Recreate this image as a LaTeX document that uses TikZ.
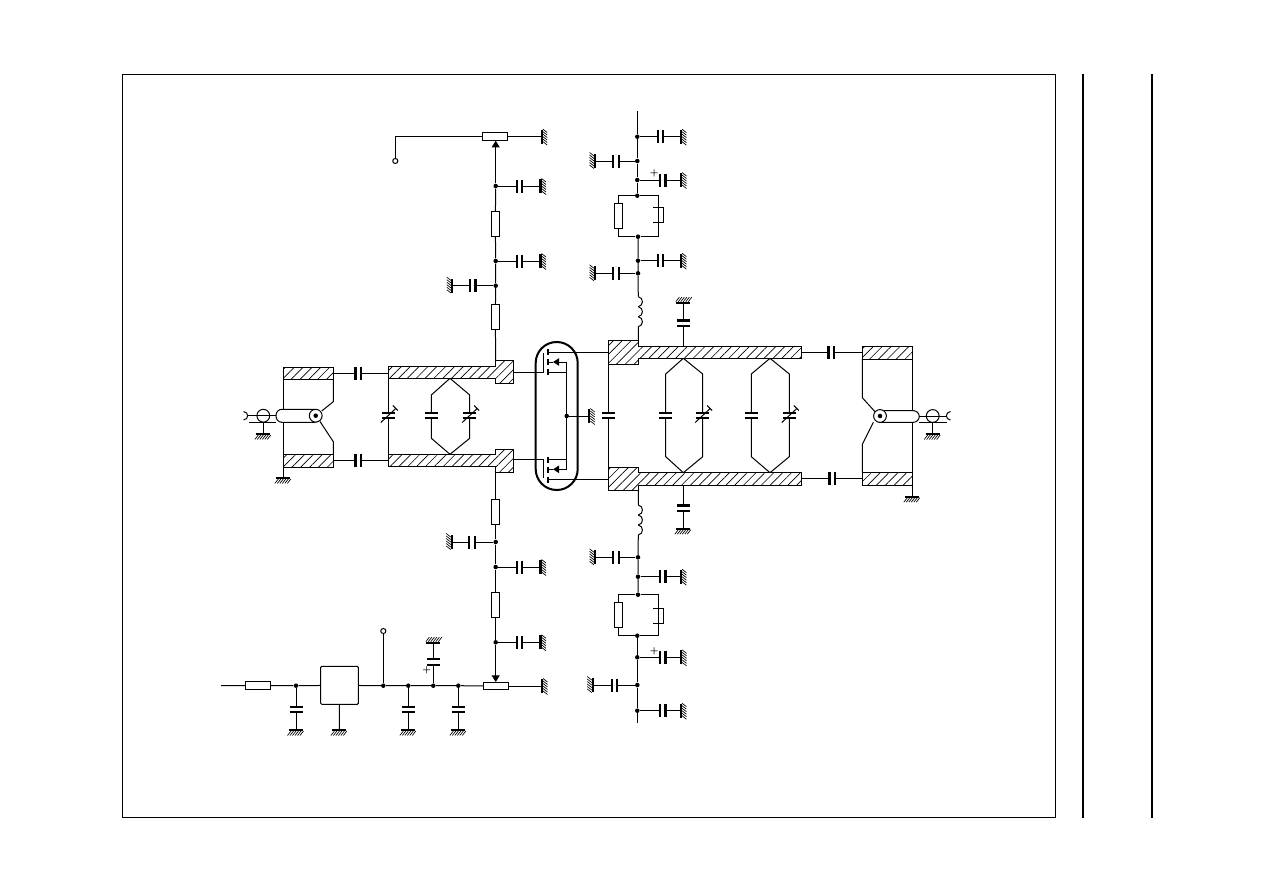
\documentclass[tikz,border=0pt]{standalone}
\usepackage{amsmath}
\usetikzlibrary{arrows.meta,patterns.meta}

\tikzset{
  every pic/.style={yscale=-1},
  wire/.style={line width=0.75pt},
  plate/.style={line width=1.6pt},
  dotnode/.style={circle,fill=black,inner sep=0pt,minimum size=3.4pt},
  opennode/.style={circle,draw,fill=white,line width=0.75pt,inner sep=0pt,minimum size=3.8pt},
  resv/.style={draw,fill=white,line width=0.75pt,inner sep=0pt,minimum width=6pt,minimum height=18.75pt},
  resh/.style={draw,fill=white,line width=0.75pt,inner sep=0pt,minimum width=18.75pt,minimum height=5.6pt},
  hatchfill/.style={draw,line width=0.75pt,pattern={Lines[angle=45,distance=4.7pt,line width=0.5pt]}},
  plusmark/.style={inner sep=0pt,font=\fontsize{6.5}{6.5}\selectfont\bfseries},
  gnd/.pic={
    \begin{scope}[rotate=#1]
      \draw[plate] (-7,0) -- (7,0);
      \foreach \i in {-5,-2.5,0,2.5,5,7.5} \draw[line width=0.5pt] (\i,1) -- (\i-3.5,5.5);
    \end{scope}
  },
  capstand/.pic={
    \coordinate (-a) at (-2.8,0);
    \coordinate (-b) at (2.8,0);
    \draw[plate] (-2.8,-6.5) -- (-2.8,6.5) (2.8,-6.5) -- (2.8,6.5);
  },
  capflat/.pic={
    \coordinate (-a) at (0,-2.8);
    \coordinate (-b) at (0,2.8);
    \draw[plate] (-6.5,-2.8) -- (6.5,-2.8) (-6.5,2.8) -- (6.5,2.8);
  },
  trimflat/.pic={
    \coordinate (-a) at (0,-2.8);
    \coordinate (-b) at (0,2.8);
    \draw[plate] (-6.5,-2.8) -- (6.5,-2.8) (-6.5,2.8) -- (6.5,2.8);
    \draw[wire] (-7.5,7) -- (7.5,-7) (4.5,-10) -- (9.5,-5);
  },
  coil/.pic={
    \coordinate (-a) at (0,0);
    \coordinate (-b) at (0,30);
    \foreach \k in {0,10,20}
      \draw[wire] (0,\k) .. controls (5.5,\k+1) and (5.5,\k+9) .. (0,\k+10);
  },
}

\begin{document}
\begin{tikzpicture}[x=0.75pt,y=0.75pt,yscale=-1,xscale=1]
\useasboundingbox (0,0) rectangle (1263,892);

%Shape: Frame and side bars
\draw[wire] (122.5,74.5) rectangle (1055.5,817.5);
\draw[line width=1.5pt] (1083,74) -- (1083,818);
\draw[line width=1.5pt] (1152,74) -- (1152,818);

%Left balun
\draw[wire] (283.3,379.3) -- (283.3,478);
\path (283.3,478) pic {gnd=0};
\draw[hatchfill] (283.3,367.7) rectangle (333.3,379.3);
\draw[hatchfill] (283.3,454.3) rectangle (333.3,467.3);
\draw[wire] (333.3,379.3) -- (333.3,401.7) -- (321.7,411);
\draw[wire] (333.3,454.3) -- (333.3,441.7) -- (320,421.5);
\draw[wire,fill=white,rounded corners=4.5pt] (276,409.3) rectangle (320,422.3);
\node[circle,draw,fill=white,line width=0.75pt,inner sep=0pt,minimum size=9.6pt] (lcoax) at (315.7,415.7) {};
\node[dotnode] (lcoaxdot) at (315.7,415.7) {};
\node[circle,draw,line width=0.75pt,inner sep=0pt,minimum size=9.6pt] (lconn) at (263.3,415.7) {};
\coordinate (lgnd) at (263.3,434);
\coordinate (lpin) at (247,415.7);
\draw[wire] (lpin) -- (276,415.7);
\draw[wire] (249,422.3) -- (276,422.3);
\draw[wire] (263.3,422.3) -- (lgnd);
\path (lgnd) pic {gnd=0};
\draw[wire] (243.5,411.5) .. controls (249,412) and (249,419.5) .. (243.5,420);

%Input caps and left tanks
\draw[hatchfill] (388.3,366.7) -- (495,366.7) -- (495,360) -- (513.3,360) -- (513.3,383.3) -- (495,383.3) -- (495,378.3) -- (388.3,378.3) -- cycle;
\draw[hatchfill] (388.3,454.3) -- (495,454.3) -- (495,449.3) -- (513.3,449.3) -- (513.3,472.3) -- (495,472.3) -- (495,466.7) -- (388.3,466.7) -- cycle;
\path (358.3,373.3) pic (cia) {capstand};
\path (358.3,460) pic (cib) {capstand};
\draw[wire] (333.3,373.3) -- (cia-a) (cia-b) -- (388.3,373.3);
\draw[wire] (333.3,460) -- (cib-a) (cib-b) -- (388.3,460);
\path (388.3,415.5) pic (cva) {trimflat};
\draw[wire] (388.3,378.3) -- (cva-a) (cva-b) -- (388.3,454.3);
\coordinate (ltop) at (450,378.3);
\coordinate (lbot) at (450,454.3);
\path (431.3,415.5) pic (cvb) {capflat};
\path (469.7,415.5) pic (cvc) {trimflat};
\draw[wire] (ltop) -- (431.3,395) -- (cvb-a) (cvb-b) -- (431.3,438.3) -- (lbot);
\draw[wire] (ltop) -- (469.7,395) -- (cvc-a) (cvc-b) -- (469.7,438.3) -- (lbot);

%Transistor pair
\node[draw,line width=1.5pt,rounded corners=15.7pt,minimum width=31.5pt,minimum height=111pt,inner sep=0pt] (envelope) at (556.7,416) {};
\coordinate (gup) at (543.3,372.3);
\coordinate (gdn) at (543.3,459);
\coordinate (srcnode) at (566.7,416);
\draw[wire] (513.3,372.3) -- (gup) -- (543.3,353);
\draw[wire] (513.3,459) -- (gdn) -- (543.3,478);
\foreach \y in {349.3,359.3,369.3,456.7,466.7,476.7}
  \draw[plate] (548.3,\y) -- (548.3,\y+6);
\draw[wire] (548.3,352.7) -- (608.3,352.7);
\draw[wire] (548.3,479.3) -- (608.3,479.3);
\draw[wire] (548.3,372.3) -- (566.7,372.3);
\draw[wire] (548.3,459.3) -- (566.7,459.3);
\draw[wire] (566.7,362) -- (566.7,469.3);
\draw[wire,-{Triangle[length=4.5pt,width=5.5pt]}] (566.7,362) -- (553,362);
\draw[wire,-{Triangle[length=4.5pt,width=5.5pt]}] (566.7,469.3) -- (553,469.3);
\draw[wire] (553,362) -- (548.3,362) (553,469.3) -- (548.3,469.3);
\node[dotnode] (jsrc) at (srcnode) {};
\coordinate (srcgnd) at (589.3,416);
\draw[wire] (jsrc) -- (srcgnd);
\path (srcgnd) pic {gnd=-90};

%Right tanks
\draw[hatchfill] (608.3,340.7) -- (638.3,340.7) -- (638.3,346.7) -- (801.7,346.7) -- (801.7,358.3) -- (638.3,358.3) -- (638.3,364) -- (608.3,364) -- cycle;
\draw[hatchfill] (608.3,467.3) -- (638.3,467.3) -- (638.3,472.7) -- (801.7,472.7) -- (801.7,485) -- (638.3,485) -- (638.3,490) -- (608.3,490) -- cycle;
\path (608.3,415.5) pic (cda) {capflat};
\draw[wire] (608.3,364) -- (cda-a) (cda-b) -- (608.3,467.3);
\foreach \nm/\xl/\xm/\xr in {a/665.7/683.3/702.7,b/751.3/770/789.3} {
  \coordinate (rt\nm) at (\xm,358.3);
  \coordinate (rb\nm) at (\xm,472.7);
  \path (\xl,415.5) pic (cl\nm) {capflat};
  \path (\xr,415.5) pic (cr\nm) {trimflat};
  \draw[wire] (rt\nm) -- (\xl,374) -- (cl\nm-a) (cl\nm-b) -- (\xl,456.7) -- (rb\nm);
  \draw[wire] (rt\nm) -- (\xr,374) -- (cr\nm-a) (cr\nm-b) -- (\xr,456.7) -- (rb\nm);
}
\path (683.3,323.3) pic (cua) {capflat};
\path (683.3,508.3) pic (cub) {capflat};
\coordinate (uagnd) at (683.3,302.7);
\coordinate (ubgnd) at (683.3,528.7);
\draw[wire] (683.3,346.7) -- (cua-b) (cua-a) -- (uagnd);
\draw[wire] (683.3,485) -- (cub-a) (cub-b) -- (ubgnd);
\path (uagnd) pic {gnd=180};
\path (ubgnd) pic {gnd=0};

%Right balun
\path (831.3,352.3) pic (coa) {capstand};
\path (832.3,478.3) pic (cob) {capstand};
\draw[wire] (801.7,352.3) -- (coa-a) (coa-b) -- (862.3,352.3);
\draw[wire] (801.7,478.3) -- (cob-a) (cob-b) -- (862.3,478.3);
\draw[wire] (912.3,359) -- (912.3,496.7);
\path (912.3,496.7) pic {gnd=0};
\draw[hatchfill] (862.3,346.7) rectangle (912.3,359);
\draw[hatchfill] (862.3,472.3) rectangle (912.3,485);
\draw[wire] (862.3,359) -- (862.3,397.7) -- (875,411.7);
\draw[wire] (862.3,472.3) -- (862.3,444.3) -- (873.3,422.3);
\draw[wire,fill=white,rounded corners=4.5pt] (875,410.7) rectangle (919.3,422.3);
\node[circle,draw,fill=white,line width=0.75pt,inner sep=0pt,minimum size=9.6pt] (rcoax) at (880,416) {};
\node[dotnode] (rcoaxdot) at (880,416) {};
\node[circle,draw,line width=0.75pt,inner sep=0pt,minimum size=9.6pt] (rconn) at (932.7,416) {};
\coordinate (rgnd) at (932.7,434);
\coordinate (rpin) at (946.7,416);
\draw[wire] (919.3,416) -- (rpin);
\draw[wire] (919.3,422.3) -- (946.7,422.3);
\draw[wire] (932.7,422.3) -- (rgnd);
\path (rgnd) pic {gnd=0};
\draw[wire] (950.5,411.5) .. controls (945,412) and (945,419.5) .. (950.5,420);

%Shunt caps with ground on the right
\foreach \nm/\jx/\jy/\px in {ta/495.7/186/519.5,tb/495.7/261/519.5,ba/495.7/567/519.5,bb/495.7/642.3/519.5,
  sa/637.3/136.7/660.5,sc/637.3/180/662.7,sd/638/260.7/660.5,se/638/576.7/662.7,sf/637.3/657.3/662.7,sg/637.3/710.7/662.7} {
  \node[dotnode] (j\nm) at (\jx,\jy) {};
  \path (\px,\jy) pic (c\nm) {capstand};
  \pgfmathsetmacro{\gx}{\jx<500 ? 540.5 : 681}
  \coordinate (g\nm) at (\gx,\jy);
  \draw[wire] (j\nm) -- (c\nm-a) (c\nm-b) -- (g\nm);
  \path (g\nm) pic {gnd=-90};
}
%Shunt caps with ground on the left
\foreach \nm/\jx/\jy/\px/\gx in {tc/495.7/285.7/472.7/452.3,bc/495.7/542/472.2/451.7,
  sb/637.3/161/615.8/595,sh/638/273.3/615.8/595,si/638/557.3/615.8/595,sj/637.3/685/614.5/592.7} {
  \node[dotnode] (j\nm) at (\jx,\jy) {};
  \path (\px,\jy) pic (c\nm) {capstand};
  \coordinate (g\nm) at (\gx,\jy);
  \draw[wire] (j\nm) -- (c\nm-b) (c\nm-a) -- (g\nm);
  \path (g\nm) pic {gnd=90};
}
\node[plusmark] (plusa) at (654.3,173.3) {+};
\node[plusmark] (plusb) at (654.3,651) {+};
\node[plusmark] (plusc) at (426.7,670) {+};

%Upper gate bias chain
\node[resh] (potup) at (495.2,136.5) {};
\node[resv] (rua) at (495.3,223.8) {};
\node[resv] (rub) at (495.3,316.8) {};
\node[opennode] (biasup) at (395.3,161) {};
\coordinate (potupgnd) at (541.7,136.5);
\draw[wire] (biasup) -- (395.3,136.5) -- (potup);
\draw[wire] (potup) -- (potupgnd);
\path (potupgnd) pic {gnd=-90};
\draw[wire,-{Triangle[length=5pt,width=6pt]}] (jta) -- (495.7,140.7);
\draw[wire] (jta) -- (rua) -- (jtb) -- (jtc) -- (rub) -- (495.7,360);

%Lower gate bias chain
\node[resv] (rla) at (495.7,511.8) {};
\node[resv] (rlb) at (495.7,604.8) {};
\node[resh] (potdn) at (496,686) {};
\coordinate (potdngnd) at (542,686);
\draw[wire] (495.7,472.3) -- (rla) -- (jbc) -- (jba) -- (rlb) -- (jbb);
\draw[wire,-{Triangle[length=5pt,width=6pt]}] (jbb) -- (495.7,682);
\draw[wire] (potdn) -- (potdngnd);
\path (potdngnd) pic {gnd=-90};

%Regulator row
\coordinate (supply) at (221,685.7);
\node[resh] (rin) at (258,685.7) {};
\node[draw,fill=white,line width=0.75pt,inner sep=0pt,minimum width=28.2pt,minimum height=28.5pt,rounded corners=0.8pt] (reg) at (339.5,685.3) {};
\coordinate (reggnd) at (339.4,730);
\node[opennode] (biasdn) at (383.3,631) {};
\draw[wire] (reg) -- (reggnd);
\path (reggnd) pic {gnd=0};
\foreach \nm/\jx in {a/296,c/408.3,e/458.3} {
  \node[dotnode] (jr\nm) at (\jx,685.7) {};
  \path (\jx,709.4) pic (cr\nm) {capflat};
  \coordinate (gr\nm) at (\jx,730);
  \draw[wire] (jr\nm) -- (cr\nm-a) (cr\nm-b) -- (gr\nm);
  \path (gr\nm) pic {gnd=0};
}
\node[dotnode] (jrb) at (383.3,685.7) {};
\node[dotnode] (jrd) at (433.3,685.7) {};
\path (433.3,662) pic (crd) {capflat};
\coordinate (grd) at (433.3,642.7);
\draw[wire] (jrd) -- (crd-b) (crd-a) -- (grd);
\path (grd) pic {gnd=180};
\draw[wire] (jrb) -- (biasdn);
\draw[wire] (supply) -- (rin) -- (jra) -- (reg) -- (jrb) -- (jrc) -- (jrd) -- (jre) -- (potdn);

%Upper supply column
\coordinate (supup) at (637.3,111);
\node[dotnode] (jsbt) at (637.3,195.7) {};
\node[dotnode] (jsbb) at (638,236.7) {};
\node[resv] (rsu) at (618,215.8) {};
\draw[wire] (supup) -- (jsa) -- (jsb) -- (jsc) -- (jsbt);
\draw[wire] (jsbt) -| (rsu);
\draw[wire] (rsu) |- (jsbb);
\draw[wire] (jsbt) -| (658.3,236.7) -- (jsbb);
\draw[wire] (653.3,207.7) -- (663.3,207.7) -- (663.3,222.3) -- (653.3,222.3);
\path (638.3,296.7) pic (lu) {coil};
\draw[wire] (jsbb) -- (jsd) -- (jsh) -- (lu-a) (lu-b) -- (638.3,340.7);

%Lower supply column
\coordinate (supdn) at (637.3,722.7);
\node[dotnode] (jstt) at (638,594.7) {};
\node[dotnode] (jstb) at (637.3,635.7) {};
\node[resv] (rsd) at (618,615.3) {};
\draw[wire] (jstb) -- (jsf) -- (jsj) -- (jsg) -- (supdn);
\draw[wire] (jstt) -| (rsd);
\draw[wire] (rsd) |- (jstb);
\draw[wire] (jstt) -| (658.3,635.7) -- (jstb);
\draw[wire] (653.3,608.3) -- (663.3,608.3) -- (663.3,623.3) -- (653.3,623.3);
\path (638.3,505) pic (ld) {coil};
\draw[wire] (638.3,490) -- (ld-a) (ld-b) -- (jsi) -- (jse) -- (jstt);

\end{tikzpicture}
\end{document}
